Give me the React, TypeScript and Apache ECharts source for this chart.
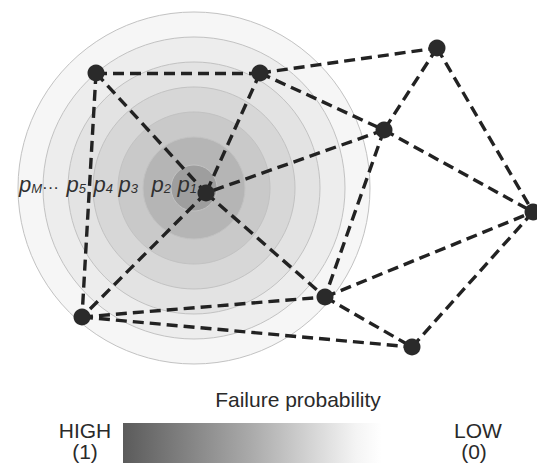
import React, { useEffect, useRef } from "react";
import * as echarts from "echarts";

// ---------- data ----------
const nodeNames = ["A", "B", "C", "D", "E", "F", "G", "H", "I"];
const nodeX = [96, 260, 437, 384, 206, 533, 325, 82, 412];
const nodeY = [73, 73, 48, 130, 193, 212, 297, 317, 347];
const edgeSources = ["A", "A", "A", "B", "B", "B", "C", "C", "D", "D", "D", "E", "E", "H", "H", "G", "G", "I"];
const edgeTargets = ["B", "H", "E", "E", "C", "D", "D", "F", "E", "F", "G", "G", "H", "G", "I", "F", "I", "F"];

const ringCenterX = 194;
const ringCenterY = 188;
const ringRadii = [176, 151, 126, 101, 76, 51, 23]; // outer -> inner
const ringSubscripts = ["M", "", "5", "4", "3", "2", "1"]; // "" = ellipsis band

const scaleTitle = "Failure probability";
const scaleHigh = ["HIGH", "(1)"];
const scaleLow = ["LOW", "(0)"];

// ---------- styles / layout ----------
const RING_FILLS = ["#f6f6f6", "#ededed", "#e3e3e3", "#d7d7d7", "#c9c9c9", "#b5b5b5", "#9e9e9e"];
const LABEL_RIGHT = [42, 59, 86, 113, 138, 171, 197];
const FONT = "'Liberation Sans', Arial, Helvetica, sans-serif";
const W = 537;
const H = 467;

export default function App() {
  const ref = useRef<HTMLDivElement>(null);

  useEffect(() => {
    if (!ref.current) return;
    const chart = echarts.init(ref.current, null, { renderer: "svg" });

    const ringData = ringRadii.map((r, i) => [ringCenterX, ringCenterY, r, i]);
    const labelData = ringSubscripts.map((s, i) => [LABEL_RIGHT[i], ringCenterY - 4, i]);

    const option: any = {
      animation: false,
      grid: { left: 0, right: 0, top: 0, bottom: 0, containLabel: false },
      xAxis: { type: "value", min: 0, max: W, show: false },
      yAxis: { type: "value", min: 0, max: H, inverse: true, show: false },
      series: [
        {
          type: "custom",
          name: "rings",
          coordinateSystem: "cartesian2d",
          clip: false,
          z: 1,
          silent: true,
          encode: { x: 0, y: 1 },
          data: ringData,
          renderItem: (params: any, api: any) => {
            const c = api.coord([api.value(0), api.value(1)]);
            const r = Math.abs(api.size([api.value(2), 0])[0]);
            return {
              type: "circle",
              shape: { cx: c[0], cy: c[1], r },
              style: { fill: RING_FILLS[params.dataIndex], stroke: "#c2c2c2", lineWidth: 1 },
            };
          },
        },
        {
          type: "custom",
          name: "ringLabels",
          coordinateSystem: "cartesian2d",
          clip: false,
          z: 2,
          silent: true,
          encode: { x: 0, y: 1 },
          data: labelData,
          renderItem: (params: any, api: any) => {
            const c = api.coord([api.value(0), api.value(1)]);
            const sub = ringSubscripts[params.dataIndex];
            const isDots = sub === "";
            return {
              type: "text",
              x: c[0],
              y: c[1] + (isDots ? 3 : 0),
              style: {
                text: isDots ? "···" : `{p|p}{s|${sub}}`,
                align: "right",
                verticalAlign: "middle",
                fill: "#303030",
                fontFamily: FONT,
                fontSize: 17,
                fontStyle: "normal",
                rich: {
                  p: { fontSize: 22, fontStyle: "italic", lineHeight: 22, fill: "#303030", fontFamily: FONT, verticalAlign: "middle" },
                  s: { fontSize: 13, fontStyle: "italic", lineHeight: 11, fill: "#303030", fontFamily: FONT, verticalAlign: "bottom" },
                },
              },
            };
          },
        },
        {
          type: "graph",
          name: "network",
          coordinateSystem: "cartesian2d",
          z: 3,
          silent: true,
          symbol: "circle",
          symbolSize: 17,
          label: { show: false },
          itemStyle: { color: "#2a2a2a" },
          lineStyle: { color: "#222222", width: 3.4, type: [11, 6], opacity: 1, curveness: 0 },
          emphasis: { disabled: true },
          data: nodeNames.map((n, i) => ({ name: n, value: [nodeX[i], nodeY[i]] })),
          links: edgeSources.map((s, i) => ({ source: s, target: edgeTargets[i] })),
        },
      ],
      graphic: {
        elements: [
          {
            type: "rect",
            shape: { x: 123, y: 423, width: 259, height: 40 },
            style: {
              fill: new echarts.graphic.LinearGradient(0, 0, 1, 0, [
                { offset: 0, color: "#5b5b5b" },
                { offset: 0.5, color: "#ababab" },
                { offset: 0.9, color: "#f4f4f4" },
                { offset: 1, color: "#ffffff" },
              ]),
            },
          },
          {
            type: "text",
            x: 298,
            y: 399,
            style: { text: scaleTitle, fontSize: 21, fontFamily: FONT, fill: "#2a2a2a", align: "center", verticalAlign: "middle" },
          },
          {
            type: "text",
            x: 85,
            y: 430,
            style: { text: scaleHigh[0], fontSize: 21, fontFamily: FONT, fill: "#2a2a2a", align: "center", verticalAlign: "middle" },
          },
          {
            type: "text",
            x: 85,
            y: 451,
            style: { text: scaleHigh[1], fontSize: 21, fontFamily: FONT, fill: "#2a2a2a", align: "center", verticalAlign: "middle" },
          },
          {
            type: "text",
            x: 478,
            y: 430,
            style: { text: scaleLow[0], fontSize: 21, fontFamily: FONT, fill: "#2a2a2a", align: "center", verticalAlign: "middle" },
          },
          {
            type: "text",
            x: 474,
            y: 451,
            style: { text: scaleLow[1], fontSize: 21, fontFamily: FONT, fill: "#2a2a2a", align: "center", verticalAlign: "middle" },
          },
        ],
      },
    };

    chart.setOption(option);
    return () => chart.dispose();
  }, []);

  return (
    <div
      ref={ref}
      style={{ position: "fixed", left: 0, top: 0, width: W, height: H, background: "#ffffff" }}
    />
  );
}
